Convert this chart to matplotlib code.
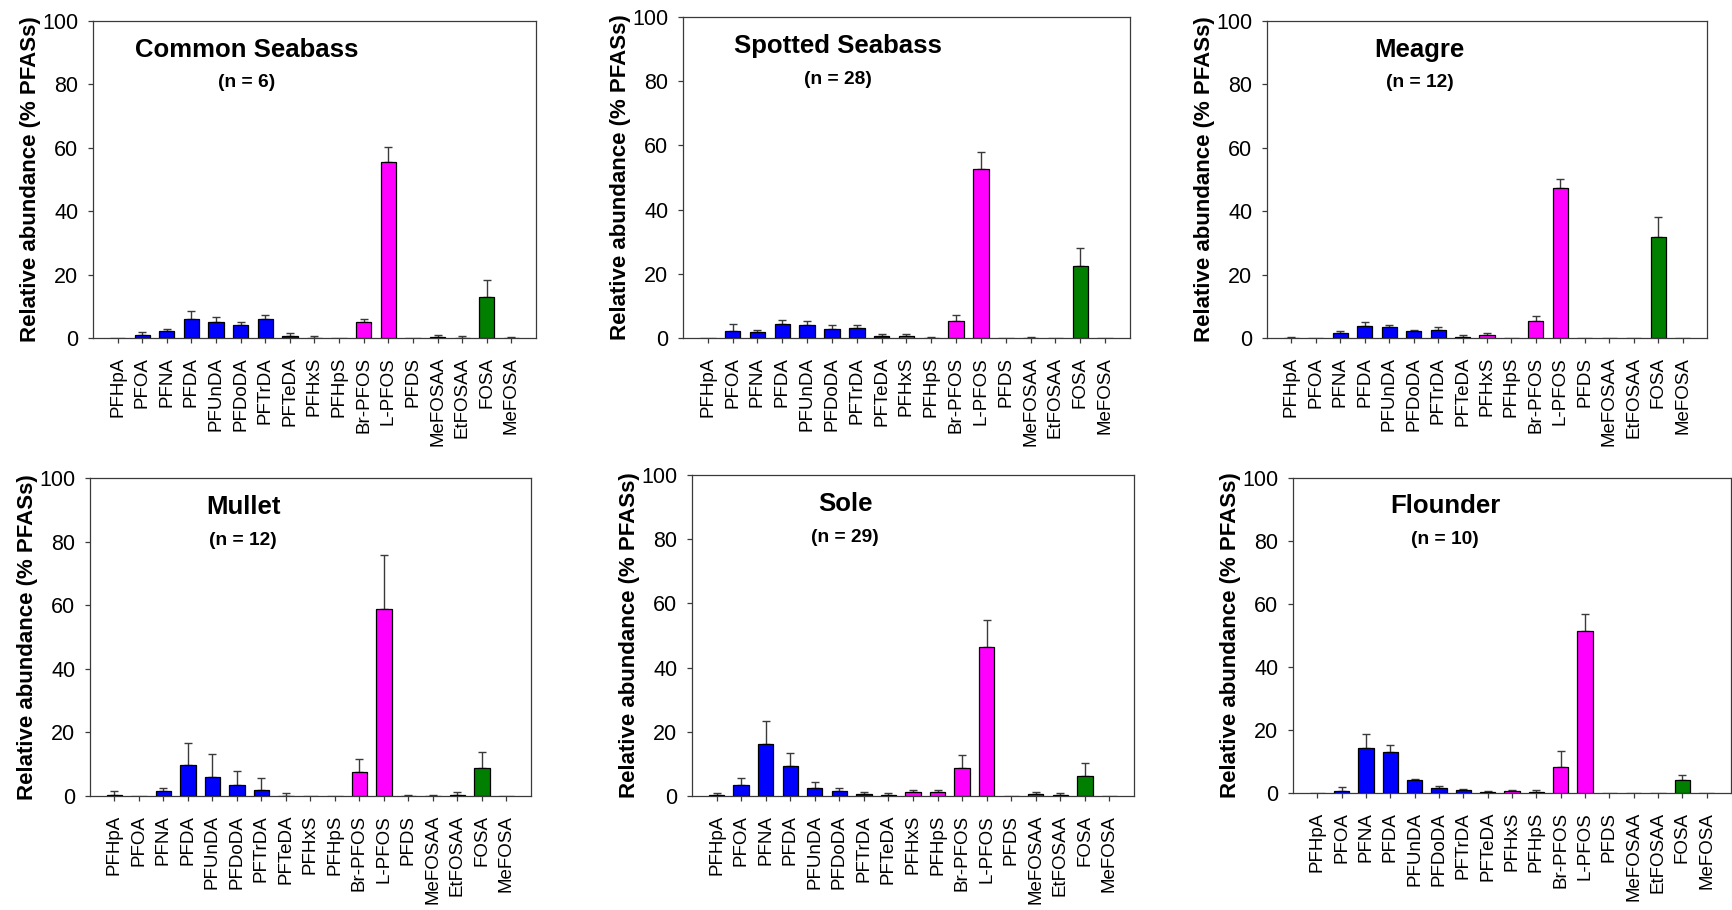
import numpy as np
import matplotlib.pyplot as plt

plt.rcParams['font.family'] = ['Liberation Sans', 'DejaVu Sans']

compounds = ['PFHpA', 'PFOA', 'PFNA', 'PFDA', 'PFUnDA', 'PFDoDA', 'PFTrDA',
             'PFTeDA', 'PFHxS', 'PFHpS', 'Br-PFOS', 'L-PFOS', 'PFDS',
             'MeFOSAA', 'EtFOSAA', 'FOSA', 'MeFOSA']
groups = ['b'] * 8 + ['m'] * 5 + ['g'] * 4
group_colors = {'b': '#0000FF', 'm': '#FF00FF', 'g': '#007F00'}

species = ['Common Seabass', 'Spotted Seabass', 'Meagre',
           'Mullet', 'Sole', 'Flounder']
n_fish = [6, 28, 12, 12, 29, 10]

# mean relative abundance (% of sum PFASs) and upper error
common_seabass = [0, 1.0, 2.1, 6.1, 5.2, 4.2, 6.1, 0.6, 0.1, 0, 5.0, 55.5, 0,
                  0.2, 0.1, 13.0, 0.05]
common_seabass_err = [0, 0.9, 0.8, 2.4, 1.4, 1.0, 1.2, 1.1, 0.4, 0, 0.9, 4.9, 0,
                      0.6, 0.4, 5.2, 0.25]
spotted_seabass = [0, 2.1, 1.8, 4.5, 3.9, 2.7, 3.2, 0.7, 0.7, 0.05, 5.3, 52.5, 0,
                   0.05, 0, 22.4, 0]
spotted_seabass_err = [0, 2.2, 0.8, 1.2, 1.4, 1.5, 1.0, 0.7, 0.7, 0.25, 1.9, 5.5, 0,
                       0.25, 0, 5.5, 0]
meagre = [0.05, 0, 1.6, 3.8, 3.6, 2.1, 2.4, 0.4, 0.9, 0, 5.4, 47.3, 0,
          0, 0, 31.8, 0]
meagre_err = [0.25, 0, 0.6, 1.4, 0.6, 0.5, 1.1, 0.5, 0.6, 0, 1.6, 3.0, 0,
              0, 0, 6.3, 0]
mullet = [0.3, 0, 1.5, 9.8, 6.1, 3.6, 2.0, 0.1, 0, 0, 7.4, 58.7, 0.05,
          0.05, 0.3, 8.8, 0]
mullet_err = [1.3, 0, 1.0, 7.0, 7.1, 4.3, 3.8, 0.8, 0, 0, 4.3, 17.2, 0.25,
              0.25, 0.9, 5.1, 0]
sole = [0.3, 3.5, 16.2, 9.5, 2.6, 1.5, 0.7, 0.3, 1.2, 1.2, 8.8, 46.4, 0,
        0.7, 0.3, 6.1, 0]
sole_err = [0.5, 2.1, 7.3, 4.0, 1.8, 1.0, 0.4, 0.6, 0.8, 0.8, 4.1, 8.3, 0,
            0.5, 0.5, 4.2, 0]
flounder = [0, 0.5, 14.3, 12.9, 4.0, 1.5, 0.8, 0.4, 0.6, 0.3, 8.3, 51.4, 0,
            0, 0, 4.0, 0]
flounder_err = [0, 1.4, 4.4, 2.3, 0.3, 0.6, 0.6, 0.2, 0.5, 0.5, 4.9, 5.4, 0,
                0, 0, 1.6, 0]

means = [common_seabass, spotted_seabass, meagre, mullet, sole, flounder]
errors = [common_seabass_err, spotted_seabass_err, meagre_err,
          mullet_err, sole_err, flounder_err]

W, H = 1733, 910
# axes boxes in pixels: left, right, top, bottom
boxes = [(93, 536, 21, 338), (683, 1130, 17, 338), (1267, 1707, 21, 338),
         (90, 531, 478, 796), (692, 1134, 475, 796), (1293, 1731, 478, 793)]

fig = plt.figure(figsize=(W / 100, H / 100), dpi=100)
x = np.arange(len(compounds))
colors = [group_colors[g] for g in groups]
line_col = '#3a3a3a'

for i, name in enumerate(species):
    l, r, t, b = boxes[i]
    ax = fig.add_axes([l / W, 1 - b / H, (r - l) / W, (b - t) / H])
    m = np.array(means[i])
    e = np.array(errors[i])
    ax.bar(x, m, width=0.62, color=colors, edgecolor='black', linewidth=0.9,
           zorder=3)
    keep = e > 0
    ax.errorbar(x[keep], m[keep], yerr=[np.zeros(keep.sum()), e[keep]],
                fmt='none', ecolor=line_col, elinewidth=1.0, capsize=2.9,
                capthick=1.0, zorder=2)
    ax.set_xlim(-1, 17)
    ax.set_ylim(0, 100)
    ax.set_yticks([0, 20, 40, 60, 80, 100])
    ax.set_xticks(x)
    ax.set_xticklabels(compounds, rotation=90, fontsize=13.5)
    ax.tick_params(axis='y', labelsize=15.5, direction='out', length=3.6,
                   width=0.9, color=line_col, pad=7)
    ax.tick_params(axis='x', direction='out', length=3.6, width=0.9,
                   color=line_col, pad=10)
    for s in ax.spines.values():
        s.set_color(line_col)
        s.set_linewidth(0.9)
    ax.set_ylabel('Relative abundance (% PFASs)', fontsize=16,
                  fontweight='bold', labelpad=1)
    ax.text(0.347, 0.91, name, transform=ax.transAxes, ha='center',
            va='center', fontsize=18.5, fontweight='bold')
    ax.text(0.347, 0.805, '(n = %d)' % n_fish[i], transform=ax.transAxes,
            ha='center', va='center', fontsize=13.8, fontweight='bold')

fig.savefig('out.png', dpi=100)
